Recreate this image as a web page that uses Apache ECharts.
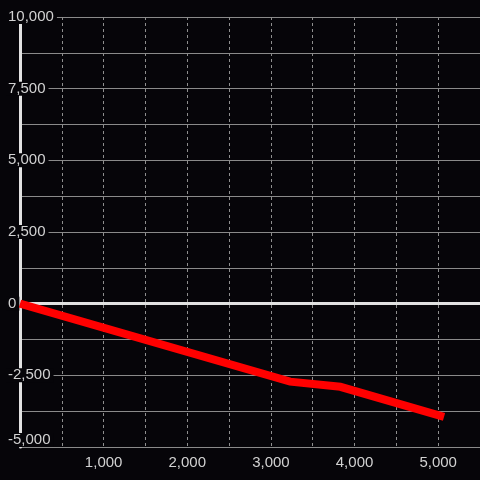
<!DOCTYPE html>
<html>
<head>
<meta charset="utf-8">
<script src="https://cdn.jsdelivr.net/npm/echarts@6/dist/echarts.min.js"></script>
<style>
  html, body { margin: 0; padding: 0; background: #060509; }
  #chart { width: 480px; height: 480px; }
</style>
</head>
<body>
<div id="chart"></div>
<script>
// line points (x, y)
const xValues = [0, 3230, 3830, 5070];
const yValues = [0, -2720, -2900, -3950];

const xMin = 0, xMax = 5500, xStep = 500, xLabelStep = 1000;
const yMin = -5000, yMax = 10000, yStep = 1250, yLabelStep = 2500;

const bg = "#060509";
const labelColor = "#d2d2d2";
const axisColor = "#e2e2e2";

function fmt(v) {
  const s = Math.abs(v).toString().replace(/\B(?=(\d{3})+(?!\d))/g, ",");
  return (v < 0 ? "-" : "") + s;
}

const chart = echarts.init(document.getElementById("chart"), null, { renderer: "canvas" });

chart.setOption({
  animation: false,
  backgroundColor: bg,
  grid: { left: 20, right: 0, top: 17, bottom: 33, containLabel: false },
  xAxis: [
    {
      type: "value",
      min: xMin,
      max: xMax,
      interval: xStep,
      axisLine: { show: false, onZero: false },
      axisTick: { show: false },
      axisLabel: {
        color: labelColor,
        fontSize: 15,
        fontFamily: "Liberation Sans, Arial, sans-serif",
        margin: 8,
        showMaxLabel: false,
        formatter: v => (v !== 0 && v % xLabelStep === 0 ? fmt(v) : "")
      },
      splitLine: { show: true, lineStyle: { color: "#8e8e8e", width: 1, type: [3, 3] } }
    },
    {
      // zero line
      type: "value",
      min: xMin,
      max: xMax,
      position: "bottom",
      axisLine: { show: true, onZero: true, lineStyle: { color: axisColor, width: 3 } },
      axisTick: { show: false },
      axisLabel: { show: false },
      splitLine: { show: false }
    }
  ],
  yAxis: [
    {
      // split lines
      type: "value",
      min: yMin,
      max: yMax,
      interval: yStep,
      position: "left",
      z: 0,
      axisLine: { show: false },
      axisTick: { show: false },
      axisLabel: { show: false },
      splitLine: { show: true, lineStyle: { color: "#8a8a8a", width: 1 } }
    },
    {
      // axis line + labels
      type: "value",
      min: yMin,
      max: yMax,
      interval: yLabelStep,
      position: "left",
      z: 1,
      axisLine: { show: true, onZero: false, lineStyle: { color: axisColor, width: 3 } },
      axisTick: { show: false },
      axisLabel: {
        color: labelColor,
        fontSize: 15,
        lineHeight: 12,
        fontFamily: "Liberation Sans, Arial, sans-serif",
        align: "left",
        margin: 14,
        backgroundColor: bg,
        padding: [1, 3, 1, 2],
        verticalAlignMinLabel: "bottom",
        formatter: v => fmt(v)
      },
      splitLine: { show: false }
    }
  ],
  series: [
    {
      type: "line",
      xAxisIndex: 0,
      yAxisIndex: 0,
      z: 5,
      data: xValues.map((x, i) => [x, yValues[i]]),
      showSymbol: false,
      symbol: "none",
      lineStyle: { color: "#ff0000", width: 8, cap: "butt", join: "miter" }
    }
  ]
});
</script>
</body>
</html>
